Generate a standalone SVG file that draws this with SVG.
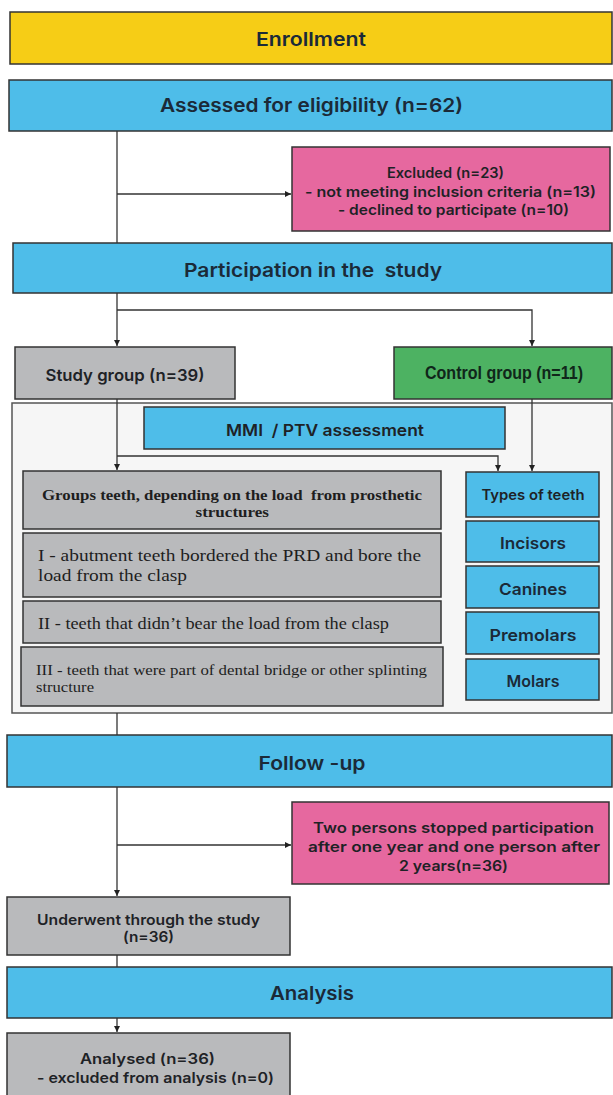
<svg xmlns="http://www.w3.org/2000/svg" width="613" height="1095" viewBox="0 0 613 1095">
<defs>
<marker id="arr" markerUnits="userSpaceOnUse" markerWidth="7" markerHeight="7" refX="6" refY="3" orient="auto">
<path d="M0,0 L6,3 L0,6 z" fill="#222"/>
</marker>
<style>
.box{stroke:#333;stroke-width:1.5}
.yellow{fill:#f6cd16}
.blue{fill:#4ebde9}
.pink{fill:#e6689f}
.gray{fill:#b9babc}
.green{fill:#4db262}
.cont{fill:#f6f6f6;stroke:#555;stroke-width:1.5}
.h{font-family:Inter,"Liberation Sans",sans-serif;font-weight:600;font-size:19px;fill:#1b2a38;text-anchor:middle}
.m{font-family:Inter,"Liberation Sans",sans-serif;font-weight:600;font-size:14.5px;fill:#1e2226;text-anchor:middle}
.s{font-family:Inter,"Liberation Sans",sans-serif;font-weight:600;font-size:16.5px;fill:#1e2226;text-anchor:middle}
.c{font-family:"Liberation Sans",Arial,sans-serif;font-weight:700;font-size:17.5px;fill:#10261a;text-anchor:middle}
.t{font-family:Inter,"Liberation Sans",sans-serif;font-weight:600;font-size:16.5px;fill:#1b2a38;text-anchor:middle}
.sb{font-family:"Liberation Serif","Times New Roman",serif;font-weight:700;font-size:15.5px;fill:#1e1e1e}
.sr{font-family:"Liberation Serif","Times New Roman",serif;font-size:17.5px;fill:#1e1e1e}
.sr2{font-family:"Liberation Serif","Times New Roman",serif;font-size:15px;fill:#1e1e1e}
.ln{fill:none;stroke:#333;stroke-width:1.3}
</style>
</defs>
<rect width="613" height="1095" fill="#ffffff"/>

<g id="container"><rect class="cont" x="12" y="403" width="600" height="310"/></g>

<g id="connectors">
<line class="ln" x1="117" y1="131" x2="117" y2="243"/>
<line class="ln" x1="117" y1="194" x2="291" y2="194" marker-end="url(#arr)"/>
<line class="ln" x1="117" y1="293" x2="117" y2="346" marker-end="url(#arr)"/>
<polyline class="ln" points="117,310 532,310 532,346" marker-end="url(#arr)"/>
<line class="ln" x1="117" y1="399" x2="117" y2="470" marker-end="url(#arr)"/>
<polyline class="ln" points="117,456 498,456 498,471" marker-end="url(#arr)"/>
<line class="ln" x1="532" y1="399" x2="532" y2="471" marker-end="url(#arr)"/>
<line class="ln" x1="117" y1="713" x2="117" y2="735"/>
<line class="ln" x1="117" y1="787" x2="117" y2="896" marker-end="url(#arr)"/>
<line class="ln" x1="117" y1="845" x2="291" y2="845" marker-end="url(#arr)"/>
<line class="ln" x1="117" y1="955" x2="117" y2="967"/>
<line class="ln" x1="117" y1="1018" x2="117" y2="1032" marker-end="url(#arr)"/>
</g>

<g id="enrollment"><rect class="box yellow" x="10" y="12" width="602" height="52"/>
<text class="h" x="311" y="45.5" textLength="110" lengthAdjust="spacingAndGlyphs">Enrollment</text></g>

<g id="assessed"><rect class="box blue" x="9" y="80" width="603" height="51"/>
<text class="h" x="311.5" y="112" textLength="303" lengthAdjust="spacingAndGlyphs">Assessed for eligibility (n=62)</text></g>

<g id="excluded"><rect class="box pink" x="292" y="147" width="318" height="84"/>
<text class="m" x="445.5" y="178" textLength="117" lengthAdjust="spacingAndGlyphs">Excluded (n=23)</text>
<text class="m" x="450.5" y="196.5" textLength="291" lengthAdjust="spacingAndGlyphs">- not meeting inclusion criteria (n=13)</text>
<text class="m" x="453.5" y="215" textLength="231" lengthAdjust="spacingAndGlyphs">- declined to participate (n=10)</text></g>

<g id="participation"><rect class="box blue" x="13" y="243" width="599" height="50"/>
<text class="h" x="313" y="276.5" textLength="258" lengthAdjust="spacingAndGlyphs" xml:space="preserve">Participation in the  study</text></g>

<g id="study-group"><rect class="box gray" x="15" y="347" width="220" height="52"/>
<text class="s" x="125" y="380.5" textLength="159" lengthAdjust="spacingAndGlyphs">Study group (n=39)</text></g>

<g id="control-group"><rect class="box green" x="394" y="347" width="218" height="52"/>
<text class="c" x="504" y="378.5" textLength="158" lengthAdjust="spacingAndGlyphs">Control group (n=11)</text></g>

<g id="mmi"><rect class="box blue" x="144" y="407" width="361" height="42"/>
<text class="s" x="325" y="436" textLength="198" lengthAdjust="spacingAndGlyphs" xml:space="preserve">MMI  / PTV assessment</text></g>

<g id="groups-teeth"><rect class="box gray" x="23" y="471" width="418" height="58"/>
<text class="sb" x="42" y="499.5" textLength="380" lengthAdjust="spacingAndGlyphs" xml:space="preserve">Groups teeth, depending on the load  from prosthetic</text>
<text class="sb" x="195.5" y="516.5" textLength="73.5" lengthAdjust="spacingAndGlyphs">structures</text></g>

<g id="group-i"><rect class="box gray" x="23" y="533" width="418" height="64"/>
<text class="sr" x="38" y="560.5" textLength="383" lengthAdjust="spacingAndGlyphs">I - abutment teeth bordered the PRD and bore the</text>
<text class="sr" x="38" y="580.5" textLength="149" lengthAdjust="spacingAndGlyphs">load from the clasp</text></g>

<g id="group-ii"><rect class="box gray" x="23" y="601" width="418" height="42"/>
<text class="sr" x="38" y="629" textLength="351" lengthAdjust="spacingAndGlyphs">II - teeth that didn’t bear the load from the clasp</text></g>

<g id="group-iii"><rect class="box gray" x="21" y="647" width="422" height="59"/>
<text class="sr2" x="36" y="674.5" textLength="391" lengthAdjust="spacingAndGlyphs">III - teeth that were part of dental bridge or other splinting</text>
<text class="sr2" x="36" y="691.5" textLength="58" lengthAdjust="spacingAndGlyphs">structure</text></g>

<g id="types"><rect class="box blue" x="466" y="472" width="133" height="45"/>
<text class="m" x="533" y="500" textLength="103" lengthAdjust="spacingAndGlyphs">Types of teeth</text></g>
<g id="incisors"><rect class="box blue" x="466" y="521" width="133" height="41"/>
<text class="t" x="533" y="549" textLength="66" lengthAdjust="spacingAndGlyphs">Incisors</text></g>
<g id="canines"><rect class="box blue" x="466" y="566" width="133" height="42"/>
<text class="t" x="533" y="595" textLength="68" lengthAdjust="spacingAndGlyphs">Canines</text></g>
<g id="premolars"><rect class="box blue" x="466" y="612" width="133" height="42"/>
<text class="t" x="533" y="640.5" textLength="87" lengthAdjust="spacingAndGlyphs">Premolars</text></g>
<g id="molars"><rect class="box blue" x="466" y="659" width="133" height="41"/>
<text class="t" x="533" y="687" textLength="53" lengthAdjust="spacingAndGlyphs">Molars</text></g>

<g id="follow-up"><rect class="box blue" x="7" y="735" width="605" height="52"/>
<text class="h" x="312" y="769.5" textLength="107" lengthAdjust="spacingAndGlyphs">Follow -up</text></g>

<g id="stopped"><rect class="box pink" x="292" y="802" width="317" height="82"/>
<text class="m" x="453.5" y="832.5" font-size="15.5" textLength="281" lengthAdjust="spacingAndGlyphs">Two persons stopped participation</text>
<text class="m" x="454" y="852" font-size="15.5" textLength="292" lengthAdjust="spacingAndGlyphs">after one year and one person after</text>
<text class="m" x="453.5" y="870.5" font-size="15.5" textLength="109" lengthAdjust="spacingAndGlyphs">2 years(n=36)</text></g>

<g id="underwent"><rect class="box gray" x="7" y="897" width="283" height="58"/>
<text class="m" x="148.5" y="924.5" textLength="223" lengthAdjust="spacingAndGlyphs">Underwent through the study</text>
<text class="m" x="148.5" y="941.5" textLength="51" lengthAdjust="spacingAndGlyphs">(n=36)</text></g>

<g id="analysis"><rect class="box blue" x="7" y="967" width="605" height="51"/>
<text class="h" x="312" y="1000" textLength="84" lengthAdjust="spacingAndGlyphs">Analysis</text></g>

<g id="analysed"><rect class="box gray" x="7" y="1033" width="283" height="70"/>
<text class="m" x="147.5" y="1064" textLength="135" lengthAdjust="spacingAndGlyphs">Analysed (n=36)</text>
<text class="m" x="155.5" y="1082.5" textLength="237" lengthAdjust="spacingAndGlyphs">- excluded from analysis (n=0)</text></g>
</svg>
